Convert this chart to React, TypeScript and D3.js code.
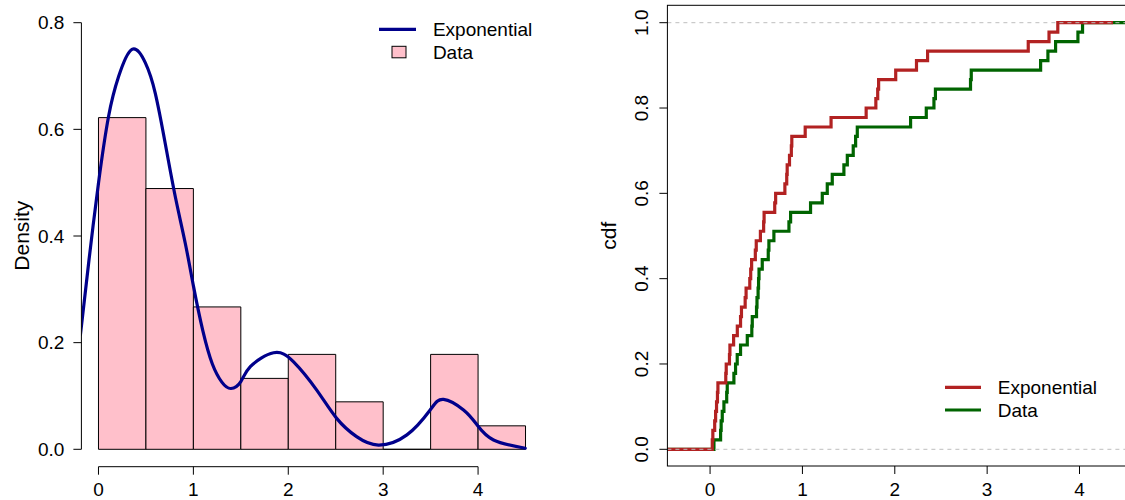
import React from 'react';
import * as d3 from 'd3';

// ---------- data ----------
const histBreaks = [0, 0.5, 1, 1.5, 2, 2.5, 3, 3.5, 4, 4.5];
const histDensity = [0.622, 0.489, 0.267, 0.133, 0.178, 0.089, 0, 0.178, 0.044];

const densX = [-0.19, -0.1, 0.0, 0.106, 0.212, 0.353, 0.493, 0.598, 0.704, 0.809, 0.915, 1.002, 1.1, 1.2, 1.3, 1.396, 1.5, 1.6, 1.845, 2.056, 2.3, 2.51, 2.72, 2.95, 3.25, 3.495, 3.636, 3.847, 3.99, 4.163, 4.497];
const densY = [0.215, 0.355, 0.499, 0.624, 0.699, 0.75, 0.725, 0.668, 0.573, 0.474, 0.386, 0.305, 0.222, 0.16, 0.126, 0.114, 0.127, 0.155, 0.181, 0.164, 0.111, 0.058, 0.0237, 0.008, 0.027, 0.0737, 0.0937, 0.0737, 0.0456, 0.0175, 0.002];

const dataSample = [0.042, 0.114, 0.12, 0.132, 0.15, 0.18, 0.186, 0.258, 0.276, 0.294, 0.33, 0.403, 0.452, 0.457, 0.503, 0.508, 0.52, 0.525, 0.53, 0.565, 0.63, 0.637, 0.691, 0.854, 0.872, 1.088, 1.215, 1.269, 1.323, 1.449, 1.486, 1.55, 1.576, 1.594, 2.171, 2.341, 2.424, 2.44, 2.82, 2.828, 3.579, 3.658, 3.741, 3.983, 4.033];
const expSample = [0.024, 0.03, 0.05, 0.06, 0.07, 0.08, 0.085, 0.17, 0.175, 0.21, 0.215, 0.255, 0.295, 0.33, 0.34, 0.38, 0.39, 0.43, 0.44, 0.45, 0.49, 0.5, 0.545, 0.58, 0.585, 0.7, 0.71, 0.81, 0.83, 0.835, 0.86, 0.88, 0.885, 1.03, 1.31, 1.69, 1.795, 1.815, 1.825, 2.01, 2.235, 2.355, 3.445, 3.67, 3.765];

const densTicksY = [0, 0.2, 0.4, 0.6, 0.8];
const cdfTicksY = [0, 0.2, 0.4, 0.6, 0.8, 1.0];
const xTicks = [0, 1, 2, 3, 4];
const legendLabels = ['Exponential', 'Data'];

// ---------- styles ----------
const FONT = "'Liberation Sans', Arial, Helvetica, sans-serif";
const FS = 19;
const FS_LAB = 21;
const PINK = '#FFC0CB';
const BLUE = '#00008B';
const RED = '#B22222';
const GREEN = '#006400';
const GREY = '#BEBEBE';

// R plot.stepfun extent rule
function stepExtent(s: number[]) {
  const rx = [s[0], s[s.length - 1]];
  const diffs = s.slice(1).map((v, i) => v - s[i]);
  const dr = Math.max(0.08 * (rx[1] - rx[0]), d3.median(diffs) as number);
  return [rx[0] - 2 * dr, rx[1] + 2 * dr];
}

export default function App() {
  // Left panel scales
  const L = { left: 81.4, right: 542.6, top: 4.7, bottom: 466.7 };
  const xL = d3.scaleLinear().domain([-0.18, 4.68]).range([L.left, L.right]);
  const yL = d3.scaleLinear().domain([0, 0.8]).range([449.3, 22.7]);

  // Right panel scales
  const R = { left: 667.4, right: 1129.1, top: 5.3, bottom: 466 };
  const xR = d3.scaleLinear().domain([-0.462, 4.537]).range([R.left, R.right]);
  const yR = d3.scaleLinear().domain([0, 1]).range([449.3, 22.7]);

  const densLine = d3
    .line<number>()
    .x((_, i) => xL(densX[i]))
    .y((d) => yL(d))
    .curve(d3.curveNatural);

  const stepPath = (s: number[]) => {
    const sorted = [...s].sort((a, b) => a - b);
    const n = sorted.length;
    const [x0, x1] = stepExtent(sorted);
    let p = `M${xR(x0)},${yR(0)}`;
    sorted.forEach((v, i) => {
      p += `H${xR(v)}V${yR((i + 1) / n)}`;
    });
    p += `H${xR(x1)}`;
    return p;
  };

  const fmt = d3.format('.1f');
  const tick = 8;

  return (
    <svg
      width={1125}
      height={500}
      style={{ position: 'absolute', left: 0, top: 0, background: '#fff' }}
      fontFamily={FONT}
      fontSize={FS}
    >
      <defs>
        <clipPath id="clipL">
          <rect x={L.left} y={L.top} width={L.right - L.left} height={L.bottom - L.top} />
        </clipPath>
        <clipPath id="clipR">
          <rect x={R.left} y={R.top} width={R.right - R.left} height={R.bottom - R.top} />
        </clipPath>
      </defs>
      <rect x={0} y={0} width={1125} height={500} fill="#fff" />

      {/* ---------------- Left panel: density ---------------- */}
      <g clipPath="url(#clipL)">
        {histDensity.map((d, i) => {
          const x0 = xL(histBreaks[i]);
          const x1 = xL(histBreaks[i + 1]);
          const y0 = yL(0);
          const y1 = yL(d);
          return (
            <path
              key={i}
              d={`M${x0},${y0}V${y1}H${x1}V${y0}Z`}
              fill={PINK}
              stroke="#000"
              strokeWidth={1}
            />
          );
        })}
        <path d={densLine(densY) || ''} fill="none" stroke={BLUE} strokeWidth={3.2} strokeLinecap="round" />
      </g>

      {/* y axis */}
      <line x1={L.left} x2={L.left} y1={yL(0)} y2={yL(0.8)} stroke="#000" />
      {densTicksY.map((t) => (
        <g key={t}>
          <line x1={L.left - tick} x2={L.left} y1={yL(t)} y2={yL(t)} stroke="#000" />
          <text x={L.left - 17} y={yL(t)} textAnchor="end" dominantBaseline="central">
            {fmt(t)}
          </text>
        </g>
      ))}
      <text
        transform={`translate(21.5,${(L.top + L.bottom) / 2}) rotate(-90)`}
        textAnchor="middle"
        dominantBaseline="central"
        fontSize={FS_LAB}
      >
        Density
      </text>

      {/* x axis */}
      <line x1={xL(0)} x2={xL(4)} y1={L.bottom} y2={L.bottom} stroke="#000" />
      {xTicks.map((t) => (
        <g key={t}>
          <line x1={xL(t)} x2={xL(t)} y1={L.bottom} y2={L.bottom + tick} stroke="#000" />
          <text x={xL(t)} y={489} textAnchor="middle" dominantBaseline="central">
            {t}
          </text>
        </g>
      ))}

      {/* legend left */}
      <line x1={379} x2={416} y1={29.3} y2={29.3} stroke={BLUE} strokeWidth={3.2} />
      <text x={432.9} y={29.3} dominantBaseline="central">
        {legendLabels[0]}
      </text>
      <rect x={392} y={46.3} width={14} height={11.5} fill={PINK} stroke="#000" strokeWidth={1} />
      <text x={432.9} y={52.3} dominantBaseline="central">
        {legendLabels[1]}
      </text>

      {/* ---------------- Right panel: cdf ---------------- */}
      <g clipPath="url(#clipR)">
        <path d={stepPath(dataSample)} fill="none" stroke={GREEN} strokeWidth={3.2} />
        <path d={stepPath(expSample)} fill="none" stroke={RED} strokeWidth={3.2} />
        {[0, 1].map((h) => (
          <line
            key={h}
            x1={R.left}
            x2={R.right}
            y1={yR(h)}
            y2={yR(h)}
            stroke={GREY}
            strokeWidth={1}
            strokeDasharray="4,4"
          />
        ))}
      </g>
      <rect x={R.left} y={R.top} width={R.right - R.left} height={R.bottom - R.top} fill="none" stroke="#000" />

      {cdfTicksY.map((t) => (
        <g key={t}>
          <line x1={R.left - tick} x2={R.left} y1={yR(t)} y2={yR(t)} stroke="#000" />
          <text
            transform={`translate(641,${yR(t)}) rotate(-90)`}
            textAnchor="middle"
            dominantBaseline="central"
          >
            {fmt(t)}
          </text>
        </g>
      ))}
      <text
        transform={`translate(608.5,${(R.top + R.bottom) / 2}) rotate(-90)`}
        textAnchor="middle"
        dominantBaseline="central"
        fontSize={FS_LAB}
      >
        cdf
      </text>
      {xTicks.map((t) => (
        <g key={t}>
          <line x1={xR(t)} x2={xR(t)} y1={R.bottom} y2={R.bottom + tick} stroke="#000" />
          <text x={xR(t)} y={489} textAnchor="middle" dominantBaseline="central">
            {t}
          </text>
        </g>
      ))}

      {/* legend right */}
      <line x1={945} x2={981} y1={387.3} y2={387.3} stroke={RED} strokeWidth={3.2} />
      <text x={997.8} y={387.3} dominantBaseline="central">
        {legendLabels[0]}
      </text>
      <line x1={945} x2={981} y1={410} y2={410} stroke={GREEN} strokeWidth={3.2} />
      <text x={997.8} y={410} dominantBaseline="central">
        {legendLabels[1]}
      </text>
    </svg>
  );
}
